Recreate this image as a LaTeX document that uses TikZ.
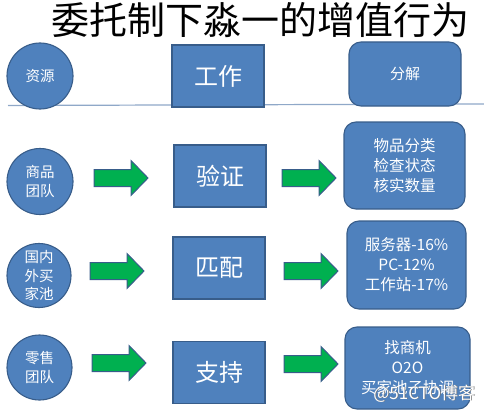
\documentclass[tikz,border=0pt]{standalone}
\usepackage{fontspec}
\setmainfont{Noto Sans CJK SC}
\definecolor{myblue}{HTML}{4F81BD}
\definecolor{myborder}{HTML}{385D8A}
\definecolor{arrowgreen}{HTML}{00B050}
\definecolor{rulecol}{HTML}{8FA8C8}
\tikzset{
  blk/.style={fill=myblue, draw=myborder, line width=1.1pt, text=white, align=center},
  circ/.style={blk, circle, minimum size=65pt, inner sep=0pt, font=\fontsize{14.5}{18.5}\selectfont},
  sq/.style={blk, rectangle, minimum width=92pt, minimum height=62pt, inner sep=0pt, font=\fontsize{24}{28}\selectfont},
  rbox/.style={blk, rectangle, rounded corners=12pt, inner sep=0pt, font=\fontsize{15.5}{20}\selectfont},
  bigarrow/.pic={\draw[fill=arrowgreen, draw=myborder, line width=1pt]
    (0,-8.5) -- (37,-8.5) -- (37,-17.5) -- (54,0) -- (37,17.5) -- (37,8.5) -- (0,8.5) -- cycle;},
}
\begin{document}
\begin{tikzpicture}[x=1pt,y=-1pt]
\useasboundingbox (0,0) rectangle (484,412);
% title
\node[font=\fontsize{38}{40}\selectfont, inner sep=0pt] (title) at (260,20) {委托制下淼一的增值行为};
% rule
\coordinate (ruleL) at (8,105.5);
\coordinate (ruleR) at (484,104);
\draw[rulecol, line width=1.2pt] (ruleL) -- (ruleR);
% row 0
\node[circ, minimum size=66pt] (c0) at (40,76) {资源};
\node[sq] (s0) at (218,76) {工作};
\node[rbox, minimum width=112pt, minimum height=64pt, font=\fontsize{15}{18}\selectfont] (r0) at (405,74) {分解};
% row 1
\node[circ, minimum size=66pt] (c1) at (40,181.5) {商品\\团队};
\pic at (94,178) {bigarrow};
\node[sq] (s1) at (220,176) {验证};
\pic at (282,178) {bigarrow};
\node[rbox, minimum width=121pt, minimum height=87pt] (r1) at (404.5,165.5) {物品分类\\检查状态\\核实数量};
% row 2
\node[circ, minimum size=64pt] (c2) at (39,275.5) {国内\\外买\\家池};
\pic at (90,271) {bigarrow};
\node[sq] (s2) at (219,268) {匹配};
\pic at (284,271) {bigarrow};
\node[rbox, minimum width=119pt, minimum height=88pt] (r2) at (406.5,265) {服务器-16\%\\PC-12\%\\工作站-17\%};
% row 3
\node[circ, minimum size=65pt] (c3) at (39.5,367.5) {零售\\团队};
\pic at (92,363) {bigarrow};
\node[sq] (s3) at (219,372.5) {支持};
\pic at (284,364) {bigarrow};
\node[rbox, minimum width=125pt, minimum height=82pt] (r3) at (407.5,368) {找商机\\O2O\\买家池子协调};
% watermark
\node[font=\fontsize{17}{20}\selectfont, text=black!55, inner sep=0pt] (wmshadow) at (425,394) {@51CTO博客};
\node[font=\fontsize{17}{20}\selectfont, text=white, inner sep=0pt] (wm) at (424.3,393.3) {@51CTO博客};
\end{tikzpicture}
\end{document}
